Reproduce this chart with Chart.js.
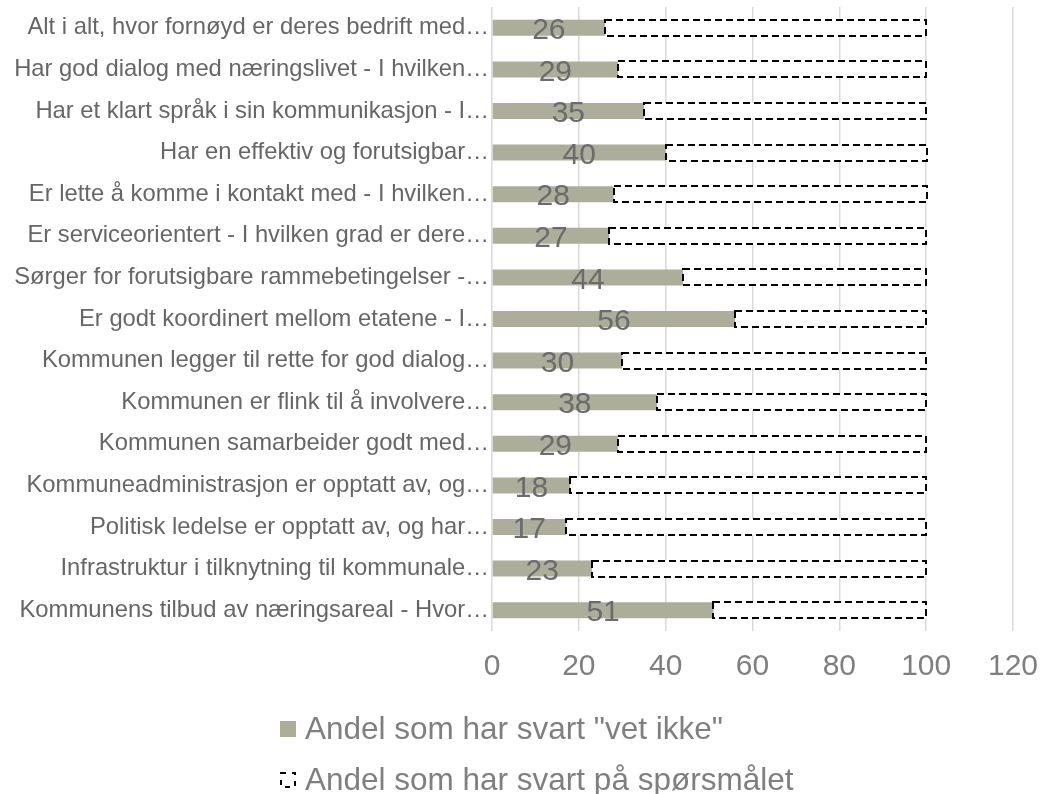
<!DOCTYPE html>
<html>
<head>
<meta charset="utf-8">
<script src="https://cdn.jsdelivr.net/npm/chart.js@4.4.1/dist/chart.umd.min.js"></script>
<style>
  html, body { margin: 0; padding: 0; background: #fff; overflow: hidden; }
  #wrap { width: 1043px; height: 794px; position: relative; }
</style>
</head>
<body>
<div id="wrap"><canvas id="chart"></canvas></div>
<script>
// categories and values
const categories = [
    'Alt i alt, hvor fornøyd er deres bedrift med…',
    'Har god dialog med næringslivet - I hvilken…',
    'Har et klart språk i sin kommunikasjon - I…',
    'Har en effektiv og forutsigbar…',
    'Er lette å komme i kontakt med - I hvilken…',
    'Er serviceorientert - I hvilken grad er dere…',
    'Sørger for forutsigbare rammebetingelser -…',
    'Er godt koordinert mellom etatene - I…',
    'Kommunen legger til rette for god dialog…',
    'Kommunen er flink til å involvere…',
    'Kommunen samarbeider godt med…',
    'Kommuneadministrasjon er opptatt av, og…',
    'Politisk ledelse er opptatt av, og har…',
    'Infrastruktur i tilknytning til kommunale…',
    'Kommunens tilbud av næringsareal - Hvor…'
];
const vetIkke   = [26, 29, 35, 40, 28, 27, 44, 56, 30, 38, 29, 18, 17, 23, 51];
const besvart   = vetIkke.map(v => 100 - v);
const seriesNames = ['Andel som har svart "vet ikke"', 'Andel som har svart på spørsmålet'];
const xTicks    = [0, 20, 40, 60, 80, 100, 120];

const FONT = "'Liberation Sans', Arial, sans-serif";
const GREY = '#adad9b';

// value labels in the middle of the grey bars
const valueLabels = {
    id: 'valueLabels',
    afterDatasetsDraw(chart) {
        const ctx  = chart.ctx;
        const meta = chart.getDatasetMeta(0);
        ctx.save();
        ctx.font         = '30px ' + FONT;
        ctx.fillStyle    = '#6b6b6b';
        ctx.textAlign    = 'center';
        ctx.textBaseline = 'middle';
        meta.data.forEach((bar, i) => {
            const {x, y, base} = bar.getProps(['x', 'y', 'base'], true);
            ctx.fillText(String(vetIkke[i]), (x + base) / 2, y + 3);
        });
        ctx.restore();
    }
};

// dashed outline for the second series (bar elements have no borderDash)
const dashedBars = {
    id: 'dashedBars',
    afterDatasetsDraw(chart) {
        const ctx  = chart.ctx;
        const meta = chart.getDatasetMeta(1);
        ctx.save();
        ctx.strokeStyle = '#000';
        ctx.lineWidth   = 2;
        ctx.setLineDash([7, 4]);
        meta.data.forEach(bar => {
            const {x, y, base, height} = bar.getProps(['x', 'y', 'base', 'height'], true);
            ctx.strokeRect(Math.round(base), Math.round(y - height / 2),
                Math.round(x - base), Math.round(height));
        });
        ctx.restore();
    }
};

// legend in two rows under the axis
const twoRowLegend = {
    id: 'twoRowLegend',
    afterDraw(chart) {
        const ctx  = chart.ctx;
        const x0   = 280;
        const rows = [729, 780];
        ctx.save();
        ctx.font         = '31.5px ' + FONT;
        ctx.textBaseline = 'middle';
        ctx.textAlign    = 'left';
        chart.data.datasets.forEach((ds, i) => {
            const y = rows[i];
            if (i === 0) {
                ctx.fillStyle = GREY;
                ctx.fillRect(x0, y - 8, 16, 16);
            } else {
                ctx.strokeStyle = '#000';
                ctx.lineWidth   = 2;
                ctx.setLineDash([5, 6]);
                ctx.strokeRect(x0 + 1, y - 7, 14, 14);
                ctx.setLineDash([]);
            }
            ctx.fillStyle = '#7f7f7f';
            ctx.fillText(ds.label, x0 + 25, y + 1);
        });
        ctx.restore();
    }
};

new Chart(document.getElementById('chart'), {
    type: 'bar',
    data: {
        labels: categories,
        datasets: [
            {label: seriesNames[0], data: vetIkke, backgroundColor: GREY, borderWidth: 0},
            {label: seriesNames[1], data: besvart, backgroundColor: '#ffffff', borderWidth: 0}
        ]
    },
    options: {
        indexAxis: 'y',
        responsive: true,
        maintainAspectRatio: false,
        animation: false,
        datasets: {bar: {barPercentage: 0.8, categoryPercentage: 0.48}},
        layout: {padding: {left: 0, right: 30, top: 7, bottom: 103}},
        plugins: {legend: {display: false}, tooltip: {enabled: false}},
        scales: {
            x: {
                stacked: true,
                min: 0,
                max: 120,
                afterBuildTicks: s => { s.ticks = xTicks.map(v => ({value: v})); },
                afterFit: s => { s.height = 60; s.paddingLeft = 0; s.paddingRight = 0; },
                grid: {color: '#d9d9d9', lineWidth: 1.5, drawTicks: false},
                border: {display: false},
                ticks: {color: '#7f7f7f', font: {family: FONT, size: 30}, padding: 18}
            },
            y: {
                stacked: true,
                afterFit: s => { s.width = 492; s.paddingTop = 0; s.paddingBottom = 0; },
                grid: {display: false, drawTicks: false},
                border: {display: false},
                ticks: {color: '#666666', font: {family: FONT, size: 23.8}, padding: 3, autoSkip: false}
            }
        }
    },
    plugins: [valueLabels, dashedBars, twoRowLegend]
});
</script>
</body>
</html>
